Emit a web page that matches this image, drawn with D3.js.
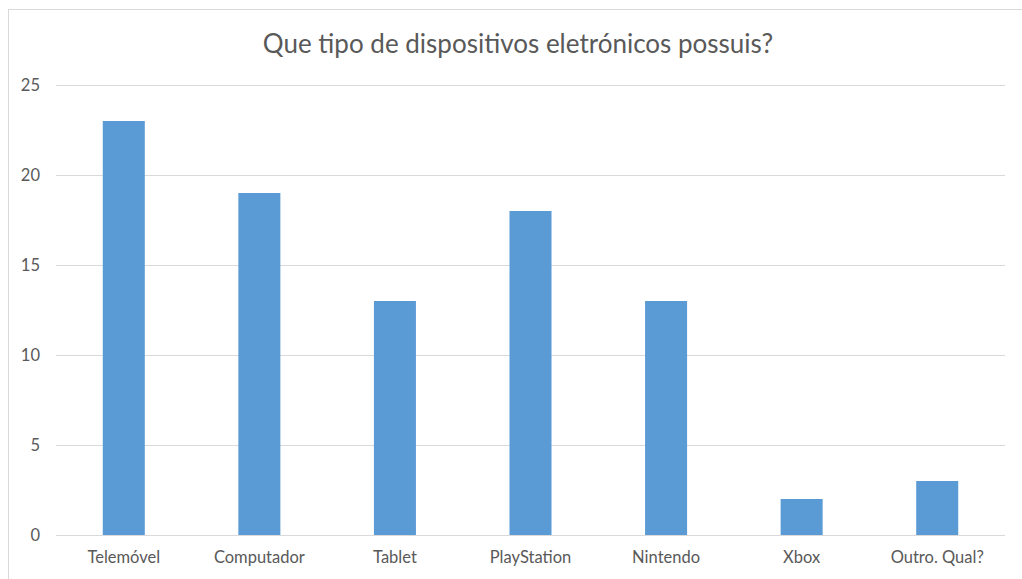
<!DOCTYPE html>
<html><head><meta charset="utf-8">
<script src="https://cdn.jsdelivr.net/npm/d3@7"></script>
<style>body{margin:0;background:#fff;} svg{display:block;}</style>
</head><body>
<script>
const categories = ["Telemóvel","Computador","Tablet","PlayStation","Nintendo","Xbox","Outro. Qual?"];
const values = [23,19,13,18,13,2,3];
const yTicks = [0,5,10,15,20,25];
const title = "Que tipo de dispositivos eletrónicos possuis?";

const W=1022,H=579;
const svg=d3.select("body").append("svg").attr("width",W).attr("height",H);
const font="Lato, 'Open Sans', sans-serif";
svg.append("rect").attr("x",8.5).attr("y",9.5).attr("width",W+10).attr("height",H+10)
  .attr("fill","#fff").attr("stroke","#d9d9d9");

const x=d3.scaleBand().domain(categories).range([56,1005]).paddingInner(0.69).paddingOuter(0.345);
const y=d3.scaleLinear().domain([0,25]).range([535,85]);

const grid=svg.append("g");
grid.selectAll("line").data(yTicks).join("line")
  .attr("x1",56).attr("x2",1005).attr("y1",d=>Math.round(y(d))+0.5).attr("y2",d=>Math.round(y(d))+0.5)
  .attr("stroke","#d9d9d9").attr("stroke-width",1);

svg.selectAll("rect.bar").data(values).join("rect").attr("class","bar")
  .attr("x",(d,i)=>x(categories[i])).attr("width",x.bandwidth())
  .attr("y",d=>y(d)).attr("height",d=>y(0)-y(d)).attr("fill","#5b9bd5");

const yAxis=d3.axisLeft(y).tickValues(yTicks).tickSize(0).tickPadding(0);
const gy=svg.append("g").attr("transform","translate(40,0)").call(yAxis);
gy.select(".domain").remove();
gy.selectAll("text").attr("font-family",font).attr("font-size","16.5px").attr("fill","#595959");

const xAxis=d3.axisBottom(x).tickSize(0).tickPadding(0);
const gx=svg.append("g").attr("transform","translate(0,563)").call(xAxis);
gx.select(".domain").remove();
gx.selectAll("text").attr("font-family",font).attr("font-size","16.5px").attr("fill","#595959").attr("dy","0");

svg.append("text").attr("x",518).attr("y",53).attr("text-anchor","middle")
  .attr("font-family",font).attr("font-size","26px").attr("fill","#595959").text(title);
</script>
</body></html>
